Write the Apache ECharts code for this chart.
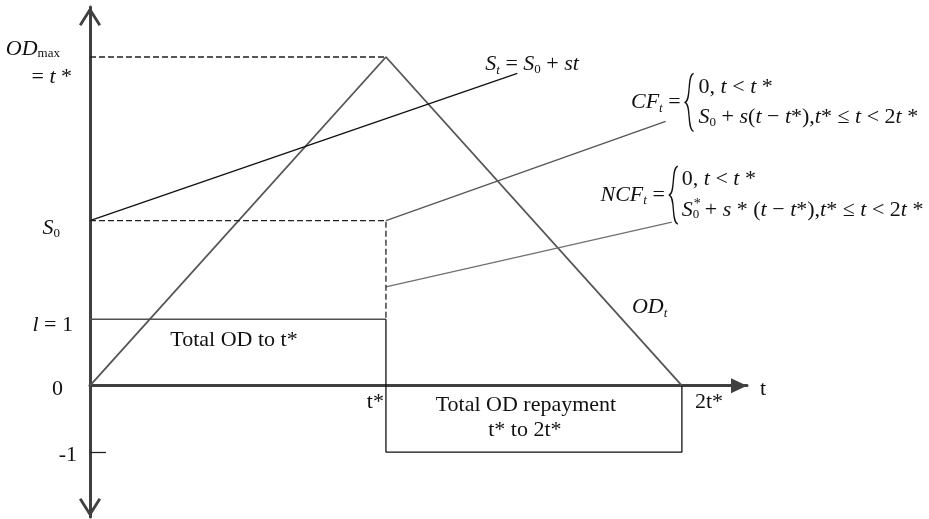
<!DOCTYPE html>
<html>
<head>
<meta charset="utf-8">
<title>Overdraft repayment schematic</title>
<script src="https://cdn.jsdelivr.net/npm/echarts@6/dist/echarts.min.js"></script>
<style>
  html, body { margin: 0; padding: 0; background: #fff; }
  #chart { width: 929px; height: 519px; }
</style>
</head>
<body>
<div id="chart"></div>
<script>
// schematic values: x in units of t*, y in units of l
const tStar = 1
const odMax = 4.95
const s0 = 2.485
const xMax = 2.22
const yMin = -1.977
const yMax = 5.703

const odLine = [[0, 0], [tStar, odMax], [2 * tStar, 0]]
const stLine = [[0, s0], [1.444, 4.705]]
const cfLine = [[tStar, s0], [1.945, 3.98]]
const ncfLine = [[tStar, 1.49], [1.966, 2.465]]
const odMaxGuide = [[0, odMax], [tStar, odMax]]
const s0Guide = [[0, s0], [tStar, s0], [tStar, 1]]
const borrowTop = [[0, 1], [tStar, 1]]
const repayBox = [[tStar, 1], [tStar, -1], [2 * tStar, -1], [2 * tStar, 0]]
const yTickValues = [-1]

const serif = '"Liberation Serif", "Times New Roman", serif'
const ink = '#111'
const axisColor = '#404040'

const rich = {
  i: { font: 'italic 22px ' + serif },
  r: { font: '22px ' + serif },
  sub: { font: '13px ' + serif, padding: [10, 0, 0, 0] },
  isub: { font: 'italic 13px ' + serif, padding: [12, 0, 0, 0] },
  sup: { font: '14px ' + serif, padding: [0, 0, 12, 0] }
}

const chevron = 'path://M11,0 L22,17.5 L19.6,19 L11,5.2 L2.4,19 L0,17.5 Z'

function seg(name, data, color, width, type) {
  return {
    name,
    type: 'line',
    data,
    symbol: 'none',
    silent: true,
    lineStyle: { color, width, type: type || 'solid' }
  }
}

const chart = echarts.init(document.getElementById('chart'))

chart.setOption({
  animation: false,
  backgroundColor: '#fff',
  grid: { left: 90, top: 7, width: 657, height: 510, outerBoundsMode: 'none' },
  xAxis: {
    type: 'value',
    min: 0,
    max: xMax,
    axisLine: {
      onZero: true,
      symbol: ['none', 'triangle'],
      symbolSize: [15, 16],
      symbolOffset: [0, -8],
      lineStyle: { color: axisColor, width: 3 }
    },
    axisTick: { show: false },
    axisLabel: { show: false },
    splitLine: { show: false }
  },
  yAxis: {
    type: 'value',
    min: yMin,
    max: yMax,
    axisLine: {
      show: true,
      onZero: true,
      symbol: [chevron, chevron],
      symbolSize: [22, 19],
      symbolOffset: [9.5, -9.5],
      lineStyle: { color: axisColor, width: 3 }
    },
    axisTick: {
      show: true,
      inside: true,
      length: 16,
      customValues: yTickValues,
      lineStyle: { color: '#222', width: 1.3 }
    },
    axisLabel: { show: false },
    splitLine: { show: false }
  },
  series: [
    seg('OD', odLine, '#555', 1.8),
    seg('S', stLine, '#111', 1.3),
    seg('CF', cfLine, '#555', 1.3),
    seg('NCF', ncfLine, '#707070', 1.3),
    seg('ODmax guide', odMaxGuide, '#222', 1.3, [6, 3]),
    seg('S0 guide', s0Guide, '#222', 1.3, [6, 3]),
    seg('borrow', borrowTop, '#505050', 1.6),
    seg('repay', repayBox, '#111', 1.3)
  ]
})

const px = p => chart.convertToPixel({ gridIndex: 0 }, p)

// text anchored to data points, nudged in pixels
const texts = [
  { at: [0, odMax], dx: -30, dy: -8, text: '{i|OD}{sub|max}', align: 'right' },
  { at: [0, odMax], dx: -18, dy: 20, text: '{r|= }{i|t}{r| *}', align: 'right' },
  { at: [0, s0], dx: -30, dy: 8, text: '{i|S}{sub|0}', align: 'right' },
  { at: [0, 1], dx: -17, dy: 6, text: '{i|l}{r| = 1}', align: 'right' },
  { at: [0, 0], dx: -27, dy: 4, text: '{r|0}', align: 'right' },
  { at: [0, -1], dx: -13, dy: 3, text: '{r|-1}', align: 'right' },
  { at: [tStar, 0], dx: -2, dy: 17, text: '{r|t*}', align: 'right' },
  { at: [2 * tStar, 0], dx: 13, dy: 17, text: '{r|2t*}', align: 'left' },
  { at: [xMax, 0], dx: 13, dy: 4, text: '{r|t}', align: 'left' },
  { at: stLine[1], dx: -32, dy: -9, text: '{i|S}{isub|t}{r| = }{i|S}{sub|0}{r| + }{i|st}', align: 'left' },
  { at: cfLine[1], dx: 15, dy: -19, text: '{i|CF}{isub|t}{r| =}', align: 'right' },
  { at: cfLine[1], dx: 33, dy: -34, text: '{r|0, }{i|t}{r| < }{i|t}{r| *}', align: 'left' },
  { at: cfLine[1], dx: 33, dy: -4, text: '{i|S}{sub|0}{r| + }{i|s}{r|(}{i|t}{r| \u2212 }{i|t}{r|*),}{i|t}{r|* \u2264 }{i|t}{r| < 2}{i|t}{r| *}', align: 'left' },
  { at: ncfLine[1], dx: -7, dy: -27, text: '{i|NCF}{isub|t}{r| =}', align: 'right' },
  { at: ncfLine[1], dx: 10, dy: -43, text: '{r|0, }{i|t}{r| < }{i|t}{r| *}', align: 'left' },
  { at: ncfLine[1], dx: 10, dy: -12, text: '{i|S}{sub|0}{r| + }{i|s}{r| * (}{i|t}{r| \u2212 }{i|t}{r|*),}{i|t}{r|* \u2264 }{i|t}{r| < 2}{i|t}{r| *}', align: 'left' },
  { at: ncfLine[1], dx: 22, dy: -12, text: '{sup|*}', align: 'left' },
  { at: [2 * tStar, 0], dx: -50, dy: -78, text: '{i|OD}{isub|t}', align: 'left' },
  { at: [tStar / 2, 0.5], dx: -4, dy: -12, text: '{r|Total OD to t*}', align: 'center' },
  { at: [1.5 * tStar, -0.5], dx: -8, dy: -14, text: '{r|Total OD repayment}', align: 'center' },
  { at: [1.5 * tStar, -0.5], dx: -9, dy: 11, text: '{r|t* to 2t*}', align: 'center' }
]

const braces = [
  { at: cfLine[1], dx: 19, dy: -19 },
  { at: ncfLine[1], dx: -3, dy: -27 }
]

const graphic = texts.map(t => {
  const p = px(t.at)
  return {
    type: 'text',
    silent: true,
    x: p[0] + t.dx,
    y: p[1] + t.dy,
    style: {
      text: t.text,
      rich,
      fill: ink,
      align: t.align,
      textAlign: t.align,
      verticalAlign: 'middle',
      textVerticalAlign: 'middle'
    }
  }
})

// curly braces: two bezier halves each
braces.forEach(b => {
  const p = px(b.at)
  const x = p[0] + b.dx
  const mid = p[1] + b.dy
  const h = 29
  const w = 9
  const style = { stroke: ink, fill: null, lineWidth: 1.3 }
  graphic.push({
    type: 'bezierCurve',
    silent: true,
    shape: { x1: x + w, y1: mid - h, cpx1: x + 2, cpy1: mid - h + 2, cpx2: x + 7, cpy2: mid - 1, x2: x, y2: mid },
    style
  })
  graphic.push({
    type: 'bezierCurve',
    silent: true,
    shape: { x1: x, y1: mid, cpx1: x + 7, cpy1: mid + 1, cpx2: x + 2, cpy2: mid + h - 2, x2: x + w, y2: mid + h },
    style
  })
})

chart.setOption({ graphic })
</script>
</body>
</html>
